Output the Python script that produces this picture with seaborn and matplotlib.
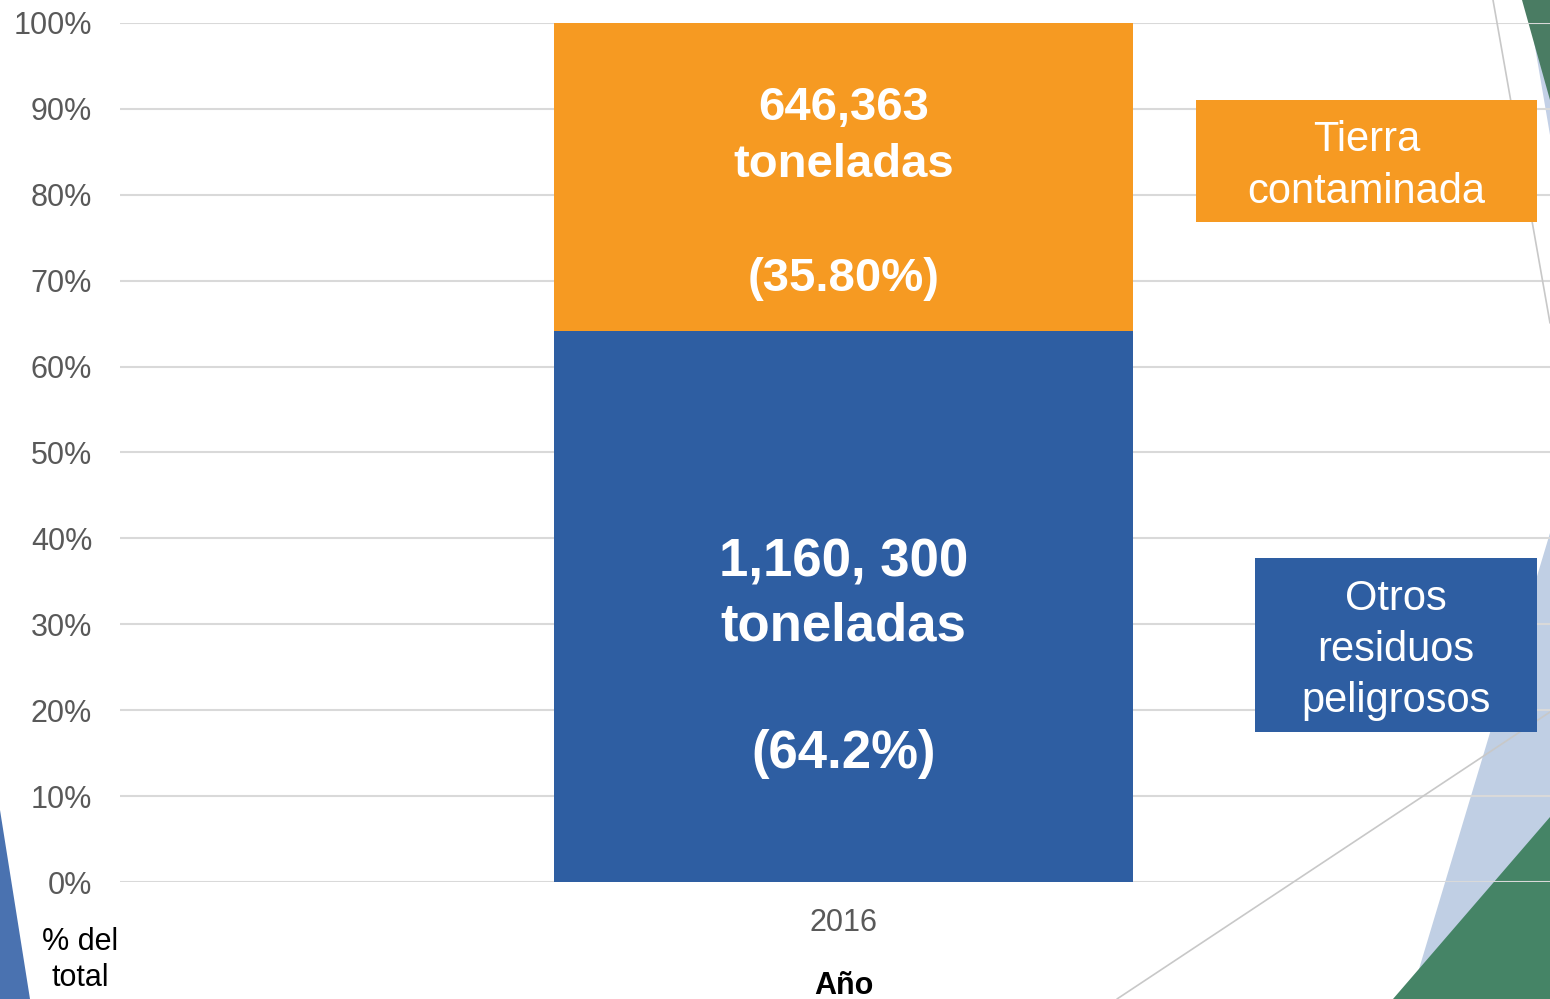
import pandas as pd
import matplotlib.pyplot as plt
import seaborn as sns
from matplotlib.patches import Polygon, Rectangle
from matplotlib.lines import Line2D

# =========================
# DATA
# =========================
years = ["2016"]
otros_pct = [64.2]
tierra_pct = [35.8]
otros_ton = ["1,160, 300"]
tierra_ton = ["646,363"]
otros_pct_label = ["(64.2%)"]
tierra_pct_label = ["(35.80%)"]
y_ticks = list(range(0, 101, 10))

df = pd.DataFrame({"year": years, "otros": otros_pct, "tierra": tierra_pct})
df["total"] = df["otros"] + df["tierra"]

BLUE = "#2E5EA2"
ORANGE = "#F69A22"
GRID = "#D9D9D9"
GRAY = "#595959"

sns.set_style("white")
plt.rcParams["font.family"] = ["Liberation Sans", "DejaVu Sans"]

fig = plt.figure(figsize=(15.5, 9.99), dpi=100)
W, H = 1550, 999


def px(x, y):
    return (x / W, 1 - y / H)


# =========================
# BACKGROUND DECORATION
# =========================
deco = [
    ([(0, 810), (30, 999), (0, 999)], "#4A72B0"),
    ([(1527, 0), (1550, 0), (1550, 135)], "#C3D0E6"),
    ([(1522, 0), (1550, 0), (1550, 100)], "#4A7C63"),
    ([(1550, 533), (1410, 999), (1550, 999)], "#C0CFE4"),
    ([(1550, 817), (1393, 999), (1550, 999)], "#458466"),
]
for pts, c in deco:
    fig.patches.append(Polygon([px(*p) for p in pts], closed=True, transform=fig.transFigure,
                               facecolor=c, edgecolor="none", zorder=0))
for (x0, y0), (x1, y1) in [((1493, 0), (1550, 323)), ((1117, 999), (1550, 712))]:
    a, b = px(x0, y0), px(x1, y1)
    fig.lines.append(Line2D([a[0], b[0]], [a[1], b[1]], transform=fig.transFigure,
                            color="#C8C8C8", lw=1.2, zorder=1))

# =========================
# BARS
# =========================
ax = fig.add_axes([120 / W, (999 - 882) / H, 1 - 120 / W, (882 - 23) / H])
ax.patch.set_alpha(0)
ax.set_zorder(1)

sns.barplot(data=df, x="year", y="total", color=ORANGE, saturation=1, width=0.8,
            linewidth=0, ax=ax, zorder=3)
sns.barplot(data=df, x="year", y="otros", color=BLUE, saturation=1, width=0.8,
            linewidth=0, ax=ax, zorder=3)

ax.set_xlim(-1.0, 0.977)
ax.set_ylim(0, 100)
ax.set_yticks(y_ticks)
ax.set_yticklabels([f"{t}%" for t in y_ticks])
ax.yaxis.grid(True, color=GRID, lw=1.5, zorder=0)
ax.set_axisbelow(True)
for s in ax.spines.values():
    s.set_visible(False)
ax.tick_params(axis="both", length=0, labelsize=22, labelcolor=GRAY)
ax.tick_params(axis="y", pad=20)
ax.tick_params(axis="x", pad=19)
ax.set_xlabel("")
ax.set_ylabel("")

for i in range(len(years)):
    ax.text(i, 80.15, f"{tierra_ton[i]}\ntoneladas\n\n{tierra_pct_label[i]}", ha="center", va="center",
            color="white", fontsize=34, fontweight="bold", linespacing=1.39, zorder=5)
    ax.text(i, 26.05, f"{otros_ton[i]}\ntoneladas\n\n{otros_pct_label[i]}", ha="center", va="center",
            color="white", fontsize=38, fontweight="bold", linespacing=1.35, zorder=5)

# =========================
# LABEL BOXES
# =========================
for (x0, y0, x1, y1), c, label in [((1196, 100, 1537, 222), ORANGE, "Tierra\ncontaminada"),
                                   ((1255, 558, 1537, 732), BLUE, "Otros\nresiduos\npeligrosos")]:
    bl = px(x0, y1)
    fig.patches.append(Rectangle(bl, (x1 - x0) / W, (y1 - y0) / H, transform=fig.transFigure,
                                 facecolor=c, edgecolor="none", zorder=4))
    cx, cy = px((x0 + x1) / 2, (y0 + y1) / 2 + 5)
    fig.text(cx, cy, label, ha="center", va="center", color="white", fontsize=30,
             linespacing=1.36, zorder=5)

fig.text(*px(80, 960), "% del\ntotal", ha="center", va="center", fontsize=22, color="black",
         linespacing=1.25)
fig.text(*px(844, 986), "Año", ha="center", va="center", fontsize=22, fontweight="bold", color="black")

fig.savefig("out.png", dpi=100)
